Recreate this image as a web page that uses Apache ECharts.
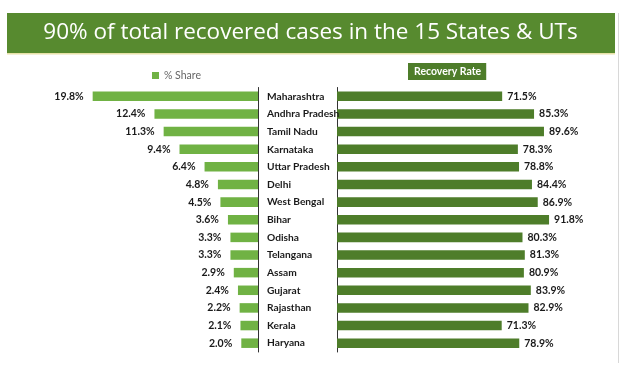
<!DOCTYPE html>
<html><head><meta charset="utf-8">
<script src="https://cdn.jsdelivr.net/npm/echarts@6/dist/echarts.min.js"></script>
<style>html,body{margin:0;padding:0;background:#fff}#c{width:621px;height:370px}</style>
</head><body><div id="c"></div>
<script>
const titleText = '90% of total recovered cases in the 15 States & UTs';
const states = ['Maharashtra','Andhra Pradesh','Tamil Nadu','Karnataka','Uttar Pradesh','Delhi','West Bengal','Bihar','Odisha','Telangana','Assam','Gujarat','Rajasthan','Kerala','Haryana'];
const shareValues = [19.8,12.4,11.3,9.4,6.4,4.8,4.5,3.6,3.3,3.3,2.9,2.4,2.2,2.1,2.0];
const recoveryValues = [71.5,85.3,89.6,78.3,78.8,84.4,86.9,91.8,80.3,81.3,80.9,83.9,82.9,71.3,78.9];
const shareName = '% Share';
const recoveryName = 'Recovery Rate';

const chart = echarts.init(document.getElementById('c'), null, {renderer:'canvas'});
const F = 'Lato, "Open Sans", sans-serif';
const labelStyle = {fontFamily:F, fontWeight:'bold', fontSize:10.5, color:'#1a1a1a'};
chart.setOption({
  animation:false,
  graphic:[
    {type:'rect', shape:{x:7,y:13,width:608,height:40}, style:{fill:'#578a2f'}},
    {type:'rect', shape:{x:7,y:53,width:608,height:1.5}, style:{fill:'#e8e2a8'}},
    {type:'rect', shape:{x:618,y:13,width:1,height:350}, style:{fill:'#d8d8d8'}}
  ],
  title:{text:titleText, left:'center', top:16,
    textStyle:{color:'#ffffff', fontFamily:'"Open Sans", Lato, sans-serif', fontWeight:'normal', fontSize:22.5}},
  legend:[
    {data:[shareName], left:147, top:65, icon:'rect', itemWidth:7, itemHeight:7, itemGap:4,
     textStyle:{fontFamily:F, fontSize:10.5, color:'#666'}},
    {data:[{name:recoveryName, icon:'none'}], left:408, top:63, itemWidth:0, itemHeight:0, padding:[3,5,3,1],
     backgroundColor:'#4e7d2a', textStyle:{fontFamily:F, fontWeight:'bold', fontSize:10.5, color:'#fff'}}
  ],
  grid:[
    {left:91, width:167, top:87.5, height:264.5},
    {left:337, width:231, top:87.5, height:264.5}
  ],
  xAxis:[
    {gridIndex:0, type:'value', min:0, max:20, inverse:true, show:false},
    {gridIndex:1, type:'value', min:0, max:100, show:false}
  ],
  yAxis:[
    {gridIndex:0, type:'category', data:states, inverse:true, position:'right', z:5,
     axisLine:{lineStyle:{color:'#333', width:1}}, axisTick:{length:3, lineStyle:{color:'#333'}},
     axisLabel:{margin:9, align:'left', ...labelStyle, fontSize:10.2}},
    {gridIndex:1, type:'category', data:states, inverse:true, position:'left',
     axisLine:{lineStyle:{color:'#333', width:1}}, axisTick:{length:3, lineStyle:{color:'#333'}},
     axisLabel:{show:false}}
  ],
  series:[
    {name:shareName, type:'bar', xAxisIndex:0, yAxisIndex:0, data:shareValues, barWidth:'54%',
     itemStyle:{color:'#70b244'},
     label:{show:true, position:'left', distance:9, formatter:p=>p.value.toFixed(1)+'%', ...labelStyle}},
    {name:recoveryName, type:'bar', xAxisIndex:1, yAxisIndex:1, data:recoveryValues, barWidth:'54%',
     itemStyle:{color:'#4e7d2a'},
     label:{show:true, position:'right', distance:5, formatter:p=>p.value.toFixed(1)+'%', ...labelStyle}}
  ]
});
</script></body></html>
